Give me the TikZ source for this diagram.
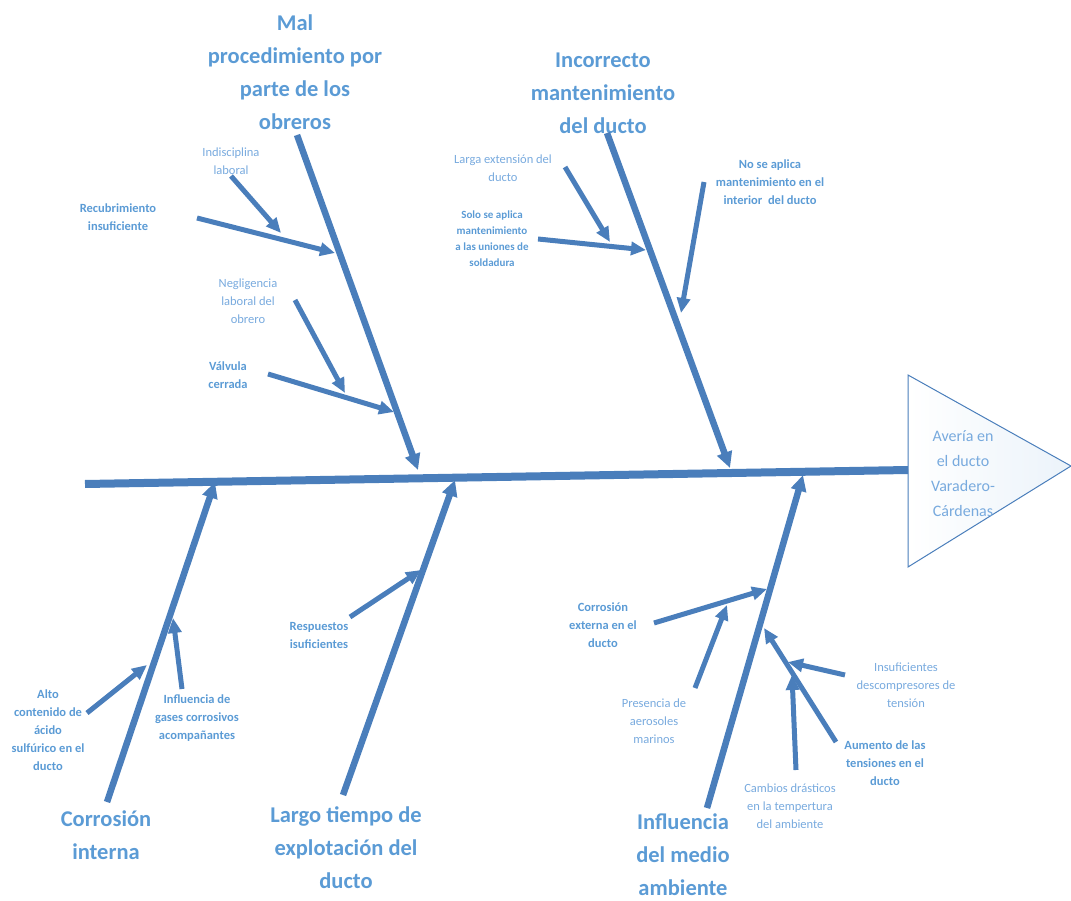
\documentclass[tikz,border=0pt]{standalone}
\usepackage{fontspec}
\setmainfont{Carlito}
\usetikzlibrary{arrows.meta}

\definecolor{azulhueso}{RGB}{74,126,187}
\definecolor{azultitulo}{RGB}{91,155,213}
\definecolor{azultexto}{RGB}{120,170,222}

\tikzset{
  espina/.style={line width=8pt,draw=azulhueso},
  hueso/.style={line width=6.5pt,draw=azulhueso,-{Triangle[length=16pt,width=15pt]}},
  ramita/.style={line width=5pt,draw=azulhueso,-{Triangle[length=15pt,width=13pt]}},
  causa/.style={font=\bfseries\fontsize{22.5}{33}\selectfont,text=azultitulo,align=center,inner sep=0pt},
  etiq/.style={font=\fontsize{12.5}{18}\selectfont,text=azultexto,align=center,inner sep=0pt},
  etiqb/.style={font=\bfseries\fontsize{12.5}{18}\selectfont,text=azultitulo,align=center,inner sep=0pt}
}

\begin{document}
\begin{tikzpicture}[x=1pt,y=-1pt]

\useasboundingbox (0,0) rectangle (1071,901);

% cabeza del pescado
\draw[azulhueso,line width=1pt,left color=white,right color=azultitulo!12]
  (908,375)--(908,567)--(1071,466)--cycle;
\node[font=\fontsize{16}{25}\selectfont,text=azultexto,align=center,inner sep=0pt]
  (averia) at (963,474) {Aver\'ia en\\el ducto\\Varadero-\\C\'ardenas};

% espina central
\coordinate (cola) at (85,484);
\coordinate (cabeza) at (908,470);
\draw[espina] (cola) -- (cabeza);

% causas principales
\node[causa] (mal) at (295,72) {Mal\\procedimiento por\\parte de los\\obreros};
\node[causa] (mant) at (603,93) {Incorrecto\\mantenimiento\\del ducto};
\node[causa] (corr) at (106,835) {Corrosi\'on\\interna};
\node[causa] (largo) at (346,848) {Largo tiempo de\\explotaci\'on del\\ducto};
\node[causa] (medio) at (683,855) {Influencia\\del medio\\ambiente};

\coordinate (mal-a) at (297,135);   \coordinate (mal-b) at (418,470);
\coordinate (mant-a) at (607,133);  \coordinate (mant-b) at (730,468);
\coordinate (corr-a) at (107,802);  \coordinate (corr-b) at (215,482);
\coordinate (largo-a) at (343,795); \coordinate (largo-b) at (455,480);
\coordinate (medio-a) at (707,808); \coordinate (medio-b) at (803,475);

\foreach \c in {mal,mant,corr,largo,medio}
  \draw[hueso] (\c-a) -- (\c-b);

% subcausas: mal procedimiento
\node[etiq] (indis) at (231,161) {Indisciplina\\laboral};
\node[etiqb] (recub) at (118,217) {Recubrimiento\\insuficiente};
\node[etiq] (negli) at (248,301) {Negligencia\\laboral del\\obrero};
\node[etiqb] (valv) at (228,375) {V\'alvula\\cerrada};

\coordinate (indis-a) at (231,176); \coordinate (indis-b) at (281,233);
\coordinate (recub-a) at (197,218); \coordinate (recub-b) at (335,253);
\coordinate (negli-a) at (295,300); \coordinate (negli-b) at (345,393);
\coordinate (valv-a) at (268,374);  \coordinate (valv-b) at (394,412);

% subcausas: mantenimiento
\node[etiq] (larga) at (503,168) {Larga extensi\'on del\\ducto};
\node[etiqb,font=\bfseries\fontsize{11}{16}\selectfont] (solo) at (492,239)
  {Solo se aplica\\mantenimiento\\a las uniones de\\soldadura};
\node[etiqb] (noap) at (770,182) {No se aplica\\mantenimiento en el\\interior\ \ del ducto};

\coordinate (larga-a) at (565,167); \coordinate (larga-b) at (610,242);
\coordinate (solo-a) at (538,239);  \coordinate (solo-b) at (646,250);
\coordinate (noap-a) at (704,182);  \coordinate (noap-b) at (681,313);

% subcausas: corrosion interna
\node[etiqb] (alto) at (48,730) {Alto\\contenido de\\\'acido\\sulf\'urico en el\\ducto};
\node[etiqb] (gases) at (197,718) {Influencia de\\gases corrosivos\\acompa\~nantes};

\coordinate (alto-a) at (87,713);   \coordinate (alto-b) at (147,665);
\coordinate (gases-a) at (182,689); \coordinate (gases-b) at (173,618);

% subcausas: largo tiempo
\node[etiqb] (resp) at (319,635) {Respuestos\\isuficientes};
\coordinate (resp-a) at (350,617);  \coordinate (resp-b) at (421,570);

% subcausas: medio ambiente
\node[etiqb] (cext) at (603,625) {Corrosi\'on\\externa en el\\ducto};
\node[etiq] (aeros) at (654,721) {Presencia de\\aerosoles\\marinos};
\node[etiq] (desc) at (906,685) {Insuficientes\\descompresores de\\tensi\'on};
\node[etiqb] (tens) at (885,763) {Aumento de las\\tensiones en el\\ducto};
\node[etiq] (temp) at (790,806) {Cambios dr\'asticos\\en la tempertura\\del ambiente};

\coordinate (cext-a) at (654,623);  \coordinate (cext-b) at (767,589);
\coordinate (aeros-a) at (695,688); \coordinate (aeros-b) at (727,605);
\coordinate (desc-a) at (845,675);  \coordinate (desc-b) at (788,662);
\coordinate (tens-a) at (836,742);  \coordinate (tens-b) at (764,628);
\coordinate (temp-a) at (796,770);  \coordinate (temp-b) at (792,675);

\foreach \s in {indis,recub,negli,valv,larga,solo,noap,alto,gases,resp,cext,aeros,desc,tens,temp}
  \draw[ramita] (\s-a) -- (\s-b);

\end{tikzpicture}
\end{document}
